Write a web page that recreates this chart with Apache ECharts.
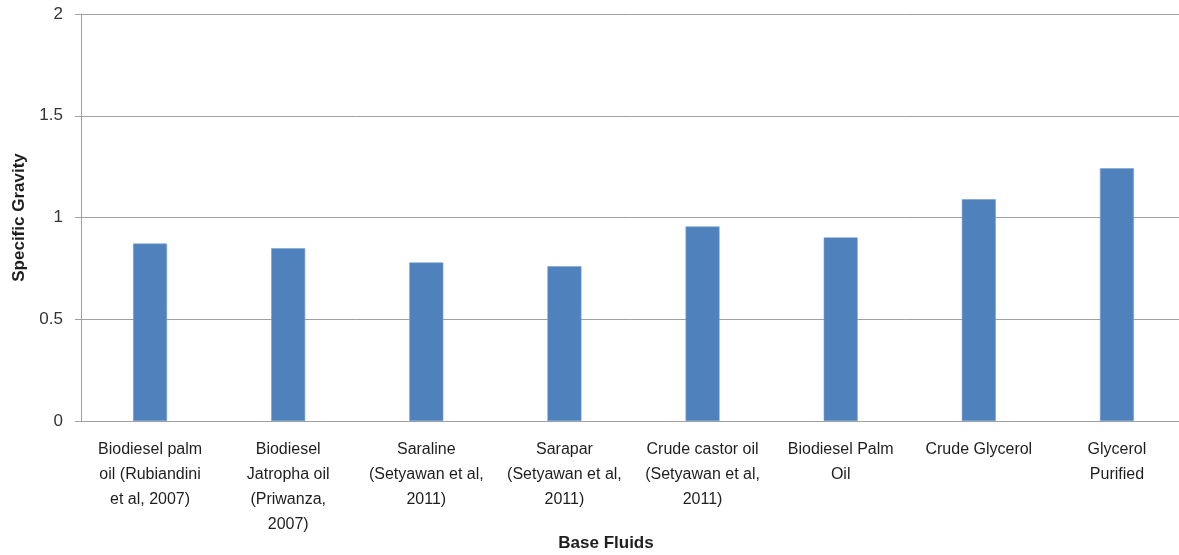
<!DOCTYPE html>
<html>
<head>
<meta charset="utf-8">
<script src="https://cdn.jsdelivr.net/npm/echarts@6/dist/echarts.min.js"></script>
<style>
  html, body { margin: 0; padding: 0; background: #ffffff; }
  #chart { width: 1179px; height: 555px; }
</style>
</head>
<body>
<div id="chart"></div>
<script>
// Base fluids and their specific gravity
const categories = [
  'Biodiesel palm\noil (Rubiandini\net al, 2007)',
  'Biodiesel\nJatropha oil\n(Priwanza,\n2007)',
  'Saraline\n(Setyawan et al,\n2011)',
  'Sarapar\n(Setyawan et al,\n2011)',
  'Crude castor oil\n(Setyawan et al,\n2011)',
  'Biodiesel Palm\nOil',
  'Crude Glycerol',
  'Glycerol\nPurified'
];
const specificGravity = [0.872, 0.849, 0.779, 0.761, 0.956, 0.902, 1.09, 1.242];
const yTicks = [0, 0.5, 1, 1.5, 2];

const FONT = '"Liberation Sans", Arial, sans-serif';
const chart = echarts.init(document.getElementById('chart'), null, { renderer: 'canvas' });

chart.setOption({
  animation: false,
  backgroundColor: '#ffffff',
  // the plot area runs past the right edge of the canvas
  grid: { left: 81, top: 14, width: 1105, height: 407, containLabel: false, outerBoundsMode: 'none' },
  xAxis: {
    type: 'category',
    data: categories,
    axisLine: { show: true, lineStyle: { color: '#a0a0a0', width: 1 } },
    axisTick: { show: false },
    axisLabel: {
      interval: 0,
      color: '#1e1e1e',
      fontFamily: FONT,
      fontSize: 16,
      lineHeight: 25,
      margin: 16
    }
  },
  yAxis: {
    type: 'value',
    min: yTicks[0],
    max: yTicks[yTicks.length - 1],
    interval: 0.5,
    name: 'Specific Gravity',
    nameLocation: 'middle',
    nameGap: 53,
    nameTextStyle: { fontFamily: FONT, fontSize: 17, fontWeight: 'bold', color: '#1e1e1e' },
    axisLine: { show: true, lineStyle: { color: '#a0a0a0', width: 1 } },
    axisTick: { show: true, length: 6, lineStyle: { color: '#a0a0a0' } },
    splitLine: { show: true, lineStyle: { color: '#a0a0a0', width: 1 } },
    axisLabel: {
      color: '#333333',
      fontFamily: FONT,
      fontSize: 17,
      margin: 18,
      formatter: v => String(v)
    }
  },
  series: [{
    type: 'bar',
    data: specificGravity,
    barWidth: 34,
    itemStyle: { color: '#4f81bd', borderColor: '#7aa0d0', borderWidth: 0.6 }
  }],
  graphic: [{
    type: 'text',
    x: 606,
    y: 543,
    style: {
      text: 'Base Fluids',
      font: 'bold 17px ' + FONT,
      fill: '#1e1e1e',
      align: 'center',
      verticalAlign: 'middle'
    }
  }]
});
</script>
</body>
</html>
